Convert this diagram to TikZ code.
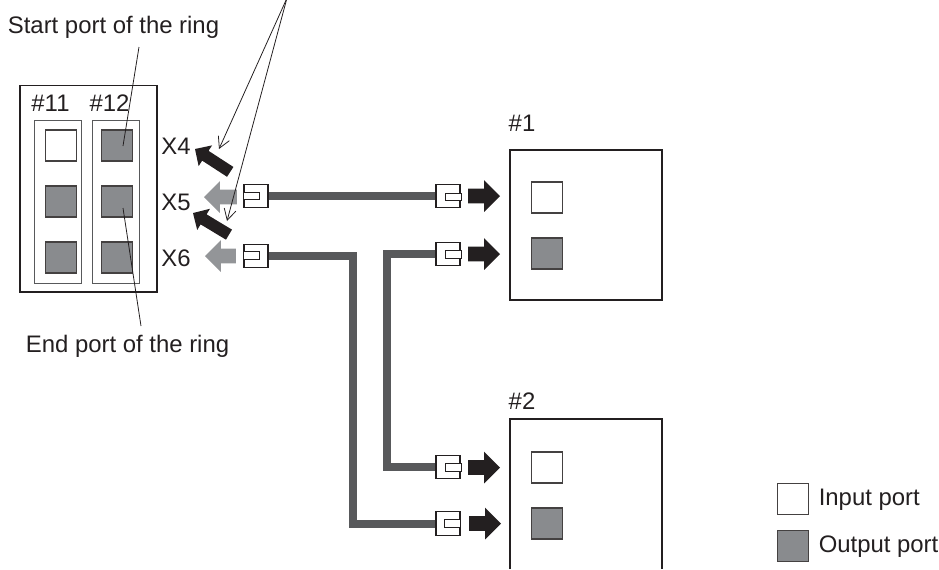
\documentclass[tikz,border=0pt]{standalone}
\usepackage{fontspec}
\setmainfont{Liberation Sans}
\usepackage{xcolor}
\definecolor{cable}{HTML}{58595B}
\definecolor{soft}{HTML}{939598}
\definecolor{portfill}{HTML}{898B8E}
\definecolor{inkblack}{HTML}{231F20}
\usepackage{tikz}
\usetikzlibrary{arrows.meta, positioning, calc, shapes.arrows}

\begin{document}
\begin{tikzpicture}[
  x=0.02cm, y=-0.02cm,
  font=\fontsize{13.6}{16}\selectfont,
  label/.style={inner sep=0pt, text=inkblack},
  unitbox/.style={draw=inkblack, line width=0.6pt, fill=white, inner sep=0pt},
  slotbox/.style={draw=cable, line width=0.5pt, fill=white, inner sep=0pt,
    minimum width=0.94cm, minimum height=3.26cm},
  inport/.style={draw=inkblack!85, line width=0.8pt, fill=white, inner sep=0pt,
    minimum width=0.63cm, minimum height=0.62cm},
  outport/.style={inport, fill=portfill},
  plug/.style={draw=inkblack, line width=0.6pt, fill=white, inner sep=0pt,
    minimum width=0.48cm, minimum height=0.47cm},
  tab/.style={draw=inkblack, line width=0.5pt, fill=white, inner sep=0pt,
    minimum width=0.32cm, minimum height=0.15cm},
  wire/.style={draw=cable, line width=0.16cm},
  blockarrow/.style={single arrow, anchor=tip, inner xsep=0pt, inner ysep=0.14cm, outer sep=0pt,
    minimum height=0.64cm, single arrow head extend=0.17cm,
    single arrow head indent=0pt, fill=inkblack},
  backarrow/.style={blockarrow, fill=soft, rotate=180},
  slantarrow/.style={blockarrow, inner ysep=0.11cm, minimum height=0.84cm,
    single arrow head extend=0.13cm},
  leader/.style={draw=inkblack, line width=0.45pt},
  pointer/.style={leader, -{Straight Barb[length=0.22cm, width=0.24cm]}}
]
  \useasboundingbox (0,0) rectangle (939,569);

  % master unit
  \node[unitbox, minimum width=2.74cm, minimum height=4.14cm] (master) at (88.5,188.5) {};
  \node[slotbox] (slotA) at (58,201.5) {};
  \node[slotbox] (slotB) at (115.5,201.5) {};
  \node[label] (numA) at (50.5,103) {\#11};
  \node[label] (numB) at (109.5,103) {\#12};
  \node[inport] (a1) at (61,145.5) {};
  \node[outport] (a2) at (61,201.5) {};
  \node[outport] (a3) at (61,257.5) {};
  \node[outport] (b1) at (117,145.5) {};
  \node[outport] (b2) at (117,201.5) {};
  \node[outport] (b3) at (117,257.5) {};
  \node[label] (xfour) at (176,146) {X4};
  \node[label] (xfive) at (176,202) {X5};
  \node[label] (xsix) at (176,258) {X6};

  % slave units, cut off at the bottom
  \node[unitbox, minimum width=3.04cm, minimum height=3cm] (one) at (586,225) {};
  \draw[unitbox] (510,569) |- (662,419) -- (662,569);
  \node[label] (numone) at (522,123) {\#1};
  \node[label] (numtwo) at (522,401) {\#2};
  \node[inport] (c1) at (547,197.5) {};
  \node[outport] (c2) at (547,253.5) {};
  \node[inport] (d1) at (547,467.5) {};
  \node[outport] (d2) at (547,523.5) {};

  % plugs
  \node[plug] (lf) at (256,196) {};
  \node[plug] (ls) at (256,256) {};
  \node[plug] (ra) at (448,196) {};
  \node[plug] (rb) at (448,254) {};
  \node[plug] (rc) at (448,467) {};
  \node[plug] (rd) at (448,523.5) {};

  % cables
  \coordinate (bendL) at (353,0);
  \coordinate (bendR) at (387,0);
  \draw[wire] (lf.east) -- (ra.west);
  \draw[wire] (ls.east) -| (bendL |- rd.west) -- (rd.west);
  \draw[wire] (rb.west) -| (bendR |- rc.west) -- (rc.west);

  \node[tab] at (251,196) {};
  \node[tab] at (251,255.5) {};
  \node[tab] at (453,197) {};
  \node[tab] at (453,254.5) {};
  \node[tab] at (453,467.5) {};
  \node[tab] at (452,523.5) {};

  % block arrows
  \node[blockarrow] (ta) at (500,196) {};
  \node[blockarrow] (tb) at (500,254) {};
  \node[blockarrow] (tc) at (500,467.5) {};
  \node[blockarrow] (td) at (501,523.5) {};
  \node[backarrow, minimum height=0.66cm] (fa) at (204,197) {};
  \node[backarrow, minimum height=0.62cm] (fb) at (205,256) {};
  \node[slantarrow, rotate=147] (ua) at (195,149) {};
  \node[slantarrow, rotate=149] (ub) at (193,213) {};

  % leaders
  \coordinate (apex) at (287,-2);
  \coordinate (startfoot) at (139,47);
  \coordinate (starthead) at (123,146);
  \coordinate (endhead) at (123,208);
  \coordinate (endfoot) at (141,326);
  \coordinate (pta) at (219,149);
  \coordinate (ptb) at (227,221);
  \draw[pointer] (apex) -- (pta);
  \draw[pointer] (apex) -- (ptb);
  \draw[leader] (startfoot) -- (starthead);
  \draw[leader] (endhead) -- (endfoot);
  \node[label] (startlabel) at (113.5,27) {Start port of the ring};
  \node[label] (endlabel) at (127.5,346) {End port of the ring};

  % legend
  \node[inport] (keyin) at (793,499) {};
  \node[outport] (keyout) at (793,546) {};
  \node[label, right=0.18cm of keyin, yshift=-0.02cm] (keyintext) {Input port};
  \node[label, right=0.18cm of keyout, yshift=-0.02cm] (keyouttext) {Output port};
\end{tikzpicture}
\end{document}
